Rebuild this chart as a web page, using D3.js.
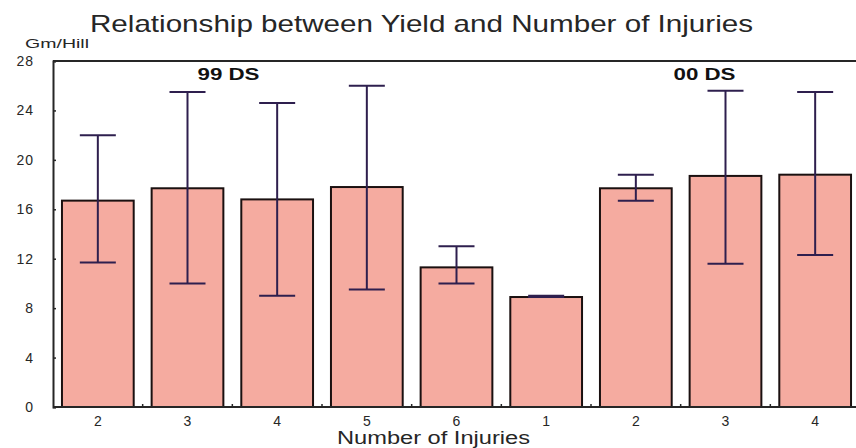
<!DOCTYPE html>
<html>
<head>
<meta charset="utf-8">
<script src="https://cdn.jsdelivr.net/npm/d3@7"></script>
<style>
  html, body { margin: 0; padding: 0; background: #fff; }
  svg { display: block; }
  text { font-family: "Liberation Sans", Arial, sans-serif; }
</style>
</head>
<body>
<svg id="chart" width="856" height="448"></svg>
<script>
// Injury counts per bar (two seasons side by side)
const categories = ["2", "3", "4", "5", "6", "1", "2", "3", "4"];
// Mean yield (Gm/Hill) per bar
const yieldMean = [16.7, 17.7, 16.8, 17.8, 11.3, 8.9, 17.7, 18.7, 18.8];
// Error bar extents
const errHigh = [22.0, 25.5, 24.6, 26.0, 13.0, 9.0, 18.8, 25.6, 25.5];
const errLow  = [11.7, 10.0, 9.0, 9.5, 10.0, 8.9, 16.7, 11.6, 12.3];
// Season group labels and the bars they sit over
const groupLabels = ["99 DS", "00 DS"];
const groupAnchor = [1, 7];
const yTicks = [0, 4, 8, 12, 16, 20, 24, 28];

const svg = d3.select("#chart");
const plotLeft = 53, plotRight = 860, plotTop = 61, plotBottom = 407;
const ink = "#262626";

const x = d3.scaleBand()
  .domain(d3.range(categories.length))
  .range([plotLeft, plotRight])
  .paddingInner(0.2)
  .paddingOuter(0.1);

const y = d3.scaleLinear().domain([0, 28]).range([plotBottom, plotTop]);

// Title
svg.append("text")
  .attr("x", 90).attr("y", 32)
  .attr("font-size", 24)
  .attr("textLength", 663)
  .attr("lengthAdjust", "spacingAndGlyphs")
  .attr("fill", ink)
  .text("Relationship between Yield and Number of Injuries");

// Y unit
svg.append("text")
  .attr("x", 25).attr("y", 48)
  .attr("font-size", 12)
  .attr("textLength", 64)
  .attr("lengthAdjust", "spacingAndGlyphs")
  .attr("fill", ink)
  .text("Gm/Hill");

// Bars
svg.append("g").selectAll("rect")
  .data(yieldMean)
  .join("rect")
  .attr("x", (d, i) => x(i))
  .attr("y", d => y(d))
  .attr("width", x.bandwidth())
  .attr("height", d => y(0) - y(d))
  .attr("fill", "#f5aba0")
  .attr("stroke", "#1a1010")
  .attr("stroke-width", 2);

// Error bars
const errColor = "#2e1f4e";
const capHalf = 18;
const eb = svg.append("g").attr("stroke", errColor).attr("stroke-width", 2);
categories.forEach((c, i) => {
  const cx = x(i) + x.bandwidth() / 2;
  eb.append("line")
    .attr("x1", cx).attr("x2", cx)
    .attr("y1", y(errHigh[i])).attr("y2", y(errLow[i]));
  eb.append("line")
    .attr("x1", cx - capHalf).attr("x2", cx + capHalf)
    .attr("y1", y(errHigh[i])).attr("y2", y(errHigh[i]));
  eb.append("line")
    .attr("x1", cx - capHalf).attr("x2", cx + capHalf)
    .attr("y1", y(errLow[i])).attr("y2", y(errLow[i]));
});

// Frame: top edge and baseline
svg.append("line")
  .attr("x1", plotLeft).attr("x2", plotRight)
  .attr("y1", plotTop).attr("y2", plotTop)
  .attr("stroke", ink).attr("stroke-width", 2);
svg.append("line")
  .attr("x1", plotLeft).attr("x2", plotRight)
  .attr("y1", plotBottom).attr("y2", plotBottom)
  .attr("stroke", ink).attr("stroke-width", 2);

// Small separators between bars on the baseline
svg.append("g").selectAll("line")
  .data(d3.range(1, categories.length))
  .join("line")
  .attr("x1", i => x(i) - x.step() * x.paddingInner() / 2)
  .attr("x2", i => x(i) - x.step() * x.paddingInner() / 2)
  .attr("y1", plotBottom - 3).attr("y2", plotBottom)
  .attr("stroke", ink).attr("stroke-width", 1.5);

// Y axis
const yAxis = svg.append("g")
  .attr("transform", `translate(${plotLeft},0)`)
  .call(d3.axisLeft(y).tickValues(yTicks).tickSize(-3).tickPadding(19));
yAxis.select(".domain").attr("stroke", ink).attr("stroke-width", 2);
yAxis.selectAll(".tick line").attr("stroke", ink).attr("stroke-width", 1.5);
yAxis.selectAll("text")
  .attr("font-size", 14)
  .attr("letter-spacing", 1)
  .attr("fill", ink)
  .style("font-family", "'Liberation Sans', Arial, sans-serif");

// X axis labels
const xAxis = svg.append("g")
  .attr("transform", `translate(0,${plotBottom})`)
  .call(d3.axisBottom(x).tickFormat(i => categories[i]).tickSize(0).tickPadding(9));
xAxis.select(".domain").remove();
xAxis.selectAll("text")
  .attr("font-size", 14)
  .attr("fill", ink)
  .style("font-family", "'Liberation Sans', Arial, sans-serif");

// X axis title
svg.append("text")
  .attr("x", 337).attr("y", 444)
  .attr("font-size", 18)
  .attr("textLength", 193)
  .attr("lengthAdjust", "spacingAndGlyphs")
  .attr("fill", ink)
  .text("Number of Injuries");

// Season labels
const groupShift = [41, -21];
groupLabels.forEach((g, k) => {
  svg.append("text")
    .attr("x", x(groupAnchor[k]) + x.bandwidth() / 2 + groupShift[k] - 31)
    .attr("y", 80)
    .attr("font-size", 16)
    .attr("font-weight", "bold")
    .attr("textLength", 62)
    .attr("lengthAdjust", "spacingAndGlyphs")
    .attr("fill", "#111")
    .text(g);
});
</script>
</body>
</html>
